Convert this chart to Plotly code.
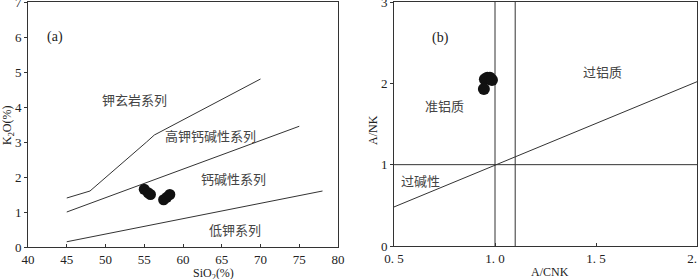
import plotly.graph_objects as go

# ---- Panel (a) data ----
sio2 = [55.0, 55.5, 55.8, 57.5, 57.9, 58.3]
k2o = [1.65, 1.55, 1.50, 1.35, 1.42, 1.50]

line_sho_x = [45, 48, 55.3, 56.3, 70]
line_sho_y = [1.4, 1.6, 3.0, 3.2, 4.8]
line_hk_x = [45, 75]
line_hk_y = [1.0, 3.45]
line_lk_x = [45, 78]
line_lk_y = [0.15, 1.6]

a_labels = ["钾玄岩系列", "高钾钙碱性系列", "钙碱性系列", "低钾系列"]
a_label_x = [53.8, 63.5, 66.5, 66.7]
a_label_y = [4.2, 3.2, 1.97, 0.49]

# ---- Panel (b) data ----
acnk = [0.95, 0.962, 0.975, 0.985, 0.945]
anK = [2.05, 2.07, 2.07, 2.04, 1.93]

diag_x = [0.5, 2.0]
diag_y = [0.48, 2.02]

b_labels = ["过铝质", "准铝质", "过碱性"]
b_label_x = [1.53, 0.75, 0.63]
b_label_y = [2.15, 1.73, 0.80]

a_xticks = [40, 45, 50, 55, 60, 65, 70, 75, 80]
a_yticks = [0, 1, 2, 3, 4, 5, 6, 7]
b_xticks = [0.5, 1.0, 1.5, 2.0]
b_xticktext = ["0. 5", "1. 0", "1. 5", "2. 0"]
b_yticks = [0, 1, 2, 3]

LC = "#333333"
SERIF = "Liberation Serif"
CJK = "Noto Sans CJK SC"

fig = go.Figure()

for lx, ly in [(line_sho_x, line_sho_y), (line_hk_x, line_hk_y), (line_lk_x, line_lk_y)]:
    fig.add_trace(go.Scatter(x=lx, y=ly, mode="lines", line=dict(color=LC, width=1),
                             xaxis="x", yaxis="y", showlegend=False, hoverinfo="skip"))
fig.add_trace(go.Scatter(x=sio2, y=k2o, mode="markers",
                         marker=dict(color="#111111", size=11),
                         xaxis="x", yaxis="y", showlegend=False))

# panel b lines
fig.add_trace(go.Scatter(x=diag_x, y=diag_y, mode="lines", line=dict(color=LC, width=1),
                         xaxis="x2", yaxis="y2", showlegend=False, hoverinfo="skip"))
fig.add_trace(go.Scatter(x=[0.5, 2.0], y=[1, 1], mode="lines", line=dict(color=LC, width=1),
                         xaxis="x2", yaxis="y2", showlegend=False, hoverinfo="skip"))
fig.add_trace(go.Scatter(x=[1.0, 1.0], y=[0, 3], mode="lines", line=dict(color=LC, width=1),
                         xaxis="x2", yaxis="y2", showlegend=False, hoverinfo="skip"))
fig.add_trace(go.Scatter(x=[1.1, 1.1], y=[0, 3], mode="lines", line=dict(color=LC, width=1),
                         xaxis="x2", yaxis="y2", showlegend=False, hoverinfo="skip"))
fig.add_trace(go.Scatter(x=acnk, y=anK, mode="markers",
                         marker=dict(color="#111111", size=12),
                         xaxis="x2", yaxis="y2", showlegend=False))

ax_common = dict(showline=True, linecolor=LC, linewidth=1, mirror=True, showgrid=False,
                 zeroline=False, ticks="outside", ticklen=3, tickcolor=LC, automargin=False,
                 ticklabeloverflow="allow",
                 tickfont=dict(family=SERIF, size=13, color="#222"))

fig.update_layout(
    width=700, height=279,
    margin=dict(l=0, r=0, t=0, b=0, autoexpand=False),
    paper_bgcolor="white", plot_bgcolor="white",
    xaxis=dict(domain=[28/700, 338/700], range=[40, 80], tickvals=a_xticks, anchor="y",
               **{**ax_common, "ticks": "inside"}),
    yaxis=dict(domain=[1-247/279, 1-2/279], range=[0, 7], tickvals=a_yticks, anchor="x",
               **ax_common),
    xaxis2=dict(domain=[394/700, 697/700], range=[0.5, 2.0], tickvals=b_xticks,
                ticktext=b_xticktext, anchor="y2", **{**ax_common, "ticks": "inside"}),
    yaxis2=dict(domain=[1-246/279, 1-2/279], range=[0, 3], tickvals=b_yticks, anchor="x2",
                **ax_common),
)

annots = []
lab_font = dict(family=CJK, size=13, color="#444")
annots.append(dict(x=43.5, y=6.0, xref="x", yref="y", text="(a)", showarrow=False,
                   font=dict(family=SERIF, size=14, color="#222")))
for t, x, y in zip(a_labels, a_label_x, a_label_y):
    annots.append(dict(x=x, y=y, xref="x", yref="y", text=t, showarrow=False, font=lab_font))
annots.append(dict(x=0.73, y=2.56, xref="x2", yref="y2", text="(b)", showarrow=False,
                   font=dict(family=SERIF, size=14, color="#222")))
for t, x, y in zip(b_labels, b_label_x, b_label_y):
    annots.append(dict(x=x, y=y, xref="x2", yref="y2", text=t, showarrow=False, font=lab_font))
# axis titles
title_font = dict(family=SERIF, size=12, color="#222")
annots.append(dict(x=8/700, y=1-125/279, xref="paper", yref="paper", text="K<sub>2</sub>O(%)",
                   textangle=-90, showarrow=False, xanchor="center", yanchor="middle", font=title_font))
annots.append(dict(x=213/700, y=1-274/279, xref="paper", yref="paper", text="SiO<sub>2</sub>(%)",
                   showarrow=False, xanchor="center", yanchor="middle", font=title_font))
annots.append(dict(x=373/700, y=1-130/279, xref="paper", yref="paper", text="A/NK",
                   textangle=-90, showarrow=False, xanchor="center", yanchor="middle", font=title_font))
annots.append(dict(x=550/700, y=1-272/279, xref="paper", yref="paper", text="A/CNK",
                   showarrow=False, xanchor="center", yanchor="middle", font=title_font))
fig.update_layout(annotations=annots)

fig.write_html("out.html", config={"displayModeBar": False},
               post_script="document.body.style.margin='0';document.body.style.overflow='hidden';")
